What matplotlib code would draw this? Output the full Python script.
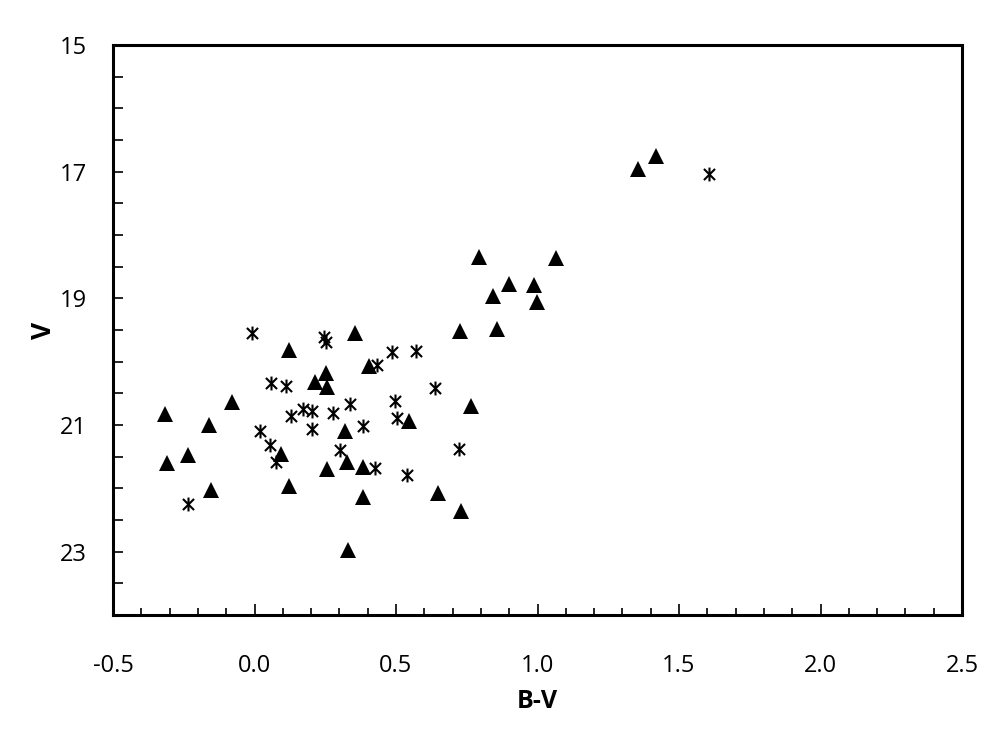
import numpy as np
import matplotlib.pyplot as plt
from matplotlib.path import Path
from matplotlib.ticker import MultipleLocator

plt.rcParams['font.family'] = ['Open Sans', 'DejaVu Sans']

# triangles
tri_bv = [-0.316, -0.31, -0.236, -0.16, -0.154, -0.078, 0.123, 0.094, 0.123, 0.215,
          0.252, 0.256, 0.256, 0.355, 0.405, 0.321, 0.326, 0.383, 0.383, 0.330,
          0.726, 0.858, 0.997, 0.844, 0.546, 0.765, 0.650, 0.731, 1.356, 1.419,
          0.794, 1.065, 0.898, 0.988]
tri_v = [20.82, 21.60, 21.48, 21.00, 22.03, 20.63, 19.82, 21.46, 21.97, 20.32,
         20.18, 20.40, 21.70, 19.54, 20.07, 21.09, 21.59, 21.67, 22.13, 22.98,
         19.51, 19.49, 19.05, 18.97, 20.93, 20.70, 22.07, 22.35, 16.96, 16.75,
         18.35, 18.37, 18.77, 18.79]

# asterisks
ast_bv = [-0.010, -0.236, 0.058, 0.111, 0.128, 0.172, 0.204, 0.204, 0.019, 0.055,
          0.076, 0.246, 0.252, 0.279, 0.336, 0.302, 0.383, 0.426, 0.432, 0.487,
          0.496, 0.503, 0.570, 0.638, 0.724, 0.540, 1.606]
ast_v = [19.54, 22.25, 20.34, 20.39, 20.86, 20.75, 20.78, 21.06, 21.09, 21.32,
         21.59, 19.61, 19.69, 20.81, 20.67, 21.39, 21.01, 21.68, 20.06, 19.85,
         20.62, 20.89, 19.83, 20.42, 21.38, 21.79, 17.03]

star = Path([(0, -1), (0, 1), (-0.8, -0.8), (0.8, 0.8), (-0.8, 0.8), (0.8, -0.8)],
            [Path.MOVETO, Path.LINETO, Path.MOVETO, Path.LINETO, Path.MOVETO, Path.LINETO])

fig = plt.figure(figsize=(10, 7.5), dpi=100)
ax = fig.add_axes([0.113, 0.18, 0.849, 0.76])

ax.plot(tri_bv, tri_v, linestyle='none', marker='^', markersize=11,
        color='black', markeredgewidth=0)
ax.plot(ast_bv, ast_v, linestyle='none', marker=star, markersize=10,
        markerfacecolor='none', markeredgecolor='black', markeredgewidth=1.5)

ax.set_xlim(-0.5, 2.5)
ax.set_ylim(24, 15)
ax.xaxis.set_minor_locator(MultipleLocator(0.1))
ax.yaxis.set_minor_locator(MultipleLocator(0.5))
ax.set_xticks(np.arange(-0.5, 2.51, 0.5))
ax.set_xticklabels(['-0.5', '0.0', '0.5', '1.0', '1.5', '2.0', '2.5'])
ax.set_yticks([15, 17, 19, 21, 23])

ax.tick_params(axis='x', which='major', direction='in', length=8, width=1.2, pad=28, labelsize=17)
ax.tick_params(axis='x', which='minor', direction='in', length=5, width=1.2)
ax.tick_params(axis='y', which='major', direction='in', length=7, width=1.2, pad=19, labelsize=17)
ax.tick_params(axis='y', which='minor', direction='in', length=7, width=1.2)

for s in ax.spines.values():
    s.set_linewidth(2.2)

ax.set_xlabel('B-V', fontsize=18, fontweight='bold', labelpad=8)
ax.set_ylabel('V', fontsize=19, fontweight='bold', labelpad=2)

fig.savefig('out.png', dpi=100)
